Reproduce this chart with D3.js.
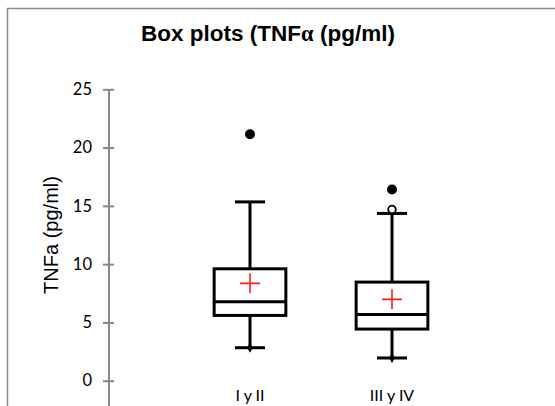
<!DOCTYPE html>
<html>
<head>
<meta charset="utf-8">
<script src="https://cdn.jsdelivr.net/npm/d3@7"></script>
<style>
  body { margin: 0; background: #fff; }
  svg { display: block; }
</style>
</head>
<body>
<div id="chart"></div>
<script>
var width = 555,
    height = 406;

// values
var categories = ["I y II", "III y IV"];
var whiskerLow = [2.83, 1.95];
var q1 = [5.6, 4.43];
var medians = [6.77, 5.69];
var q3 = [9.6, 8.46];
var whiskerHigh = [15.34, 14.35];
var means = [8.35, 6.98];
var outliersFilled = [[21.14], [16.4]];
var outliersOpen = [[], [14.69]];
var yTicks = [0, 5, 10, 15, 20, 25];

var svg = d3.select("#chart").append("svg")
    .attr("width", width)
    .attr("height", height);

// chart frame (cropped on right and bottom)
svg.append("path")
    .attr("d", "M7.5," + height + "V8.5H" + width)
    .attr("fill", "none")
    .attr("stroke", "#8c8c8c")
    .attr("stroke-width", 1.5);

svg.append("text")
    .attr("x", 268)
    .attr("y", 41)
    .attr("text-anchor", "middle")
    .style("font-family", "'Liberation Sans', Arial, sans-serif")
    .style("font-weight", "bold")
    .style("font-size", "22.5px")
    .html('Box plots (TNF<tspan style="font-family:\'Liberation Serif\', serif">α</tspan> (pg/ml)');

var y = d3.scaleLinear()
    .domain([0, 25])
    .range([380.7, 89.3]);

var x = d3.scaleBand()
    .domain(categories)
    .range([179, 463]);

var boxW = x.bandwidth() * 0.505,
    capW = 30;

// y axis
var axisX = 109;
var yAxis = svg.append("g")
    .attr("transform", "translate(" + axisX + ",0)")
    .call(d3.axisLeft(y).tickValues(yTicks).tickSize(0).tickPadding(17));
yAxis.select(".domain").remove();
yAxis.append("line")
    .attr("y1", y(25)).attr("y2", height)
    .attr("stroke", "#878787").attr("stroke-width", 2);
yAxis.selectAll(".tick line")
    .attr("x1", -6).attr("x2", 5)
    .attr("stroke", "#878787").attr("stroke-width", 2);
yAxis.selectAll(".tick text")
    .style("font-family", "Lato, sans-serif")
    .style("font-size", "16.5px")
    .attr("fill", "#000");

svg.append("text")
    .attr("transform", "translate(58,235)rotate(-90)")
    .attr("text-anchor", "middle")
    .style("font-family", "'Liberation Sans', Arial, sans-serif")
    .style("font-size", "20px")
    .text("TNFa (pg/ml)");

// category labels
svg.selectAll(".cat")
    .data(categories)
    .enter().append("text")
    .attr("class", "cat")
    .attr("x", function(d) { return x(d) + x.bandwidth() / 2; })
    .attr("y", 401)
    .attr("text-anchor", "middle")
    .style("font-family", "Lato, sans-serif")
    .style("font-size", "16px")
    .text(function(d) { return d; });

var boxes = svg.selectAll(".box")
    .data(categories)
    .enter().append("g")
    .attr("class", "box")
    .attr("transform", function(d) { return "translate(" + (x(d) + x.bandwidth() / 2) + ",0)"; });

// whiskers
boxes.append("line")
    .attr("y1", function(d, i) { return y(whiskerHigh[i]); })
    .attr("y2", function(d, i) { return y(q3[i]); })
    .attr("stroke", "#000").attr("stroke-width", 3);
boxes.append("line")
    .attr("y1", function(d, i) { return y(q1[i]); })
    .attr("y2", function(d, i) { return y(whiskerLow[i]); })
    .attr("stroke", "#000").attr("stroke-width", 3);
boxes.append("line")
    .attr("x1", -capW / 2).attr("x2", capW / 2)
    .attr("y1", function(d, i) { return y(whiskerHigh[i]); })
    .attr("y2", function(d, i) { return y(whiskerHigh[i]); })
    .attr("stroke", "#000").attr("stroke-width", 3);
boxes.append("line")
    .attr("x1", -capW / 2).attr("x2", capW / 2)
    .attr("y1", function(d, i) { return y(whiskerLow[i]); })
    .attr("y2", function(d, i) { return y(whiskerLow[i]); })
    .attr("stroke", "#000").attr("stroke-width", 3);

// box
boxes.append("rect")
    .attr("x", -boxW / 2)
    .attr("width", boxW)
    .attr("y", function(d, i) { return y(q3[i]); })
    .attr("height", function(d, i) { return y(q1[i]) - y(q3[i]); })
    .attr("fill", "#fff")
    .attr("stroke", "#000").attr("stroke-width", 3);
boxes.append("line")
    .attr("x1", -boxW / 2).attr("x2", boxW / 2)
    .attr("y1", function(d, i) { return y(medians[i]); })
    .attr("y2", function(d, i) { return y(medians[i]); })
    .attr("stroke", "#000").attr("stroke-width", 3);

// min marker (small diamond)
boxes.append("path")
    .attr("d", d3.symbol(d3.symbolDiamond, 30))
    .attr("transform", function(d, i) { return "translate(0," + y(whiskerLow[i]) + ")"; })
    .attr("fill", "#000");

// mean marker
boxes.append("path")
    .attr("d", "M-10,0H10M0,-10V10")
    .attr("transform", function(d, i) { return "translate(0," + y(means[i]) + ")"; })
    .attr("stroke", "#ff2020").attr("stroke-width", 1.6)
    .attr("fill", "none");

// outliers
boxes.each(function(d, i) {
  var g = d3.select(this);
  g.selectAll(".of")
    .data(outliersFilled[i])
    .enter().append("circle")
    .attr("class", "of")
    .attr("cy", function(v) { return y(v); })
    .attr("r", 5)
    .attr("fill", "#000");
  g.selectAll(".oo")
    .data(outliersOpen[i])
    .enter().append("circle")
    .attr("class", "oo")
    .attr("cy", function(v) { return y(v); })
    .attr("r", 3.8)
    .attr("fill", "#fff")
    .attr("stroke", "#000").attr("stroke-width", 1.8);
});
</script>
</body>
</html>
